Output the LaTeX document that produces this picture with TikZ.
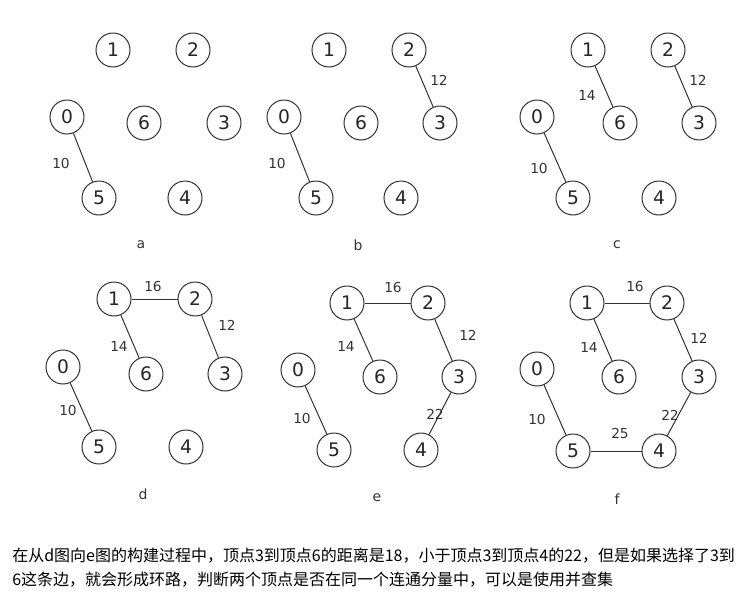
\documentclass[tikz,border=0pt]{standalone}
\usepackage{fontspec}
\setmainfont{DejaVu Sans}
\newfontfamily\cjk{Noto Sans CJK SC}
\begin{document}
\begin{tikzpicture}[x=0.75pt,y=-0.75pt,
  vtx/.style={circle,draw=black!80,text=black!85,line width=0.75pt,minimum size=25.5pt,inner sep=0pt,font=\fontsize{14}{14}\selectfont},
  edge/.style={line width=0.75pt,draw=black!80},
  wt/.style={font=\fontsize{10.3}{10.3}\selectfont,text=black!80},
  panellabel/.style={font=\fontsize{10.5}{10.5}\selectfont,text=black!80},
  txt/.style={anchor=west,inner sep=0pt,font=\cjk\fontsize{12}{12}\selectfont}]
\useasboundingbox[fill=white] (0,0) rectangle (744,604);
% panel a
\begin{scope}
\node[vtx] (a1) at (113,50) {1};
\node[vtx] (a2) at (193,50) {2};
\node[vtx] (a0) at (67,117) {0};
\node[vtx] (a6) at (144,123) {6};
\node[vtx] (a3) at (224,123) {3};
\node[vtx] (a5) at (99,198) {5};
\node[vtx] (a4) at (185,198) {4};
\draw[edge] (a0) -- (a5);
\node[wt] (wa05) at (61,163) {10};
\node[panellabel] (la) at (141,245) {a};
\end{scope}
% panel b
\begin{scope}
\node[vtx] (b1) at (329,50) {1};
\node[vtx] (b2) at (409,50) {2};
\node[vtx] (b0) at (284,117) {0};
\node[vtx] (b6) at (361,123) {6};
\node[vtx] (b3) at (440,123) {3};
\node[vtx] (b5) at (316,198) {5};
\node[vtx] (b4) at (401,198) {4};
\draw[edge] (b0) -- (b5);
\draw[edge] (b2) -- (b3);
\node[wt] (wb05) at (277,163) {10};
\node[wt] (wb23) at (439,80) {12};
\node[panellabel] (lb) at (358,245) {b};
\end{scope}
% panel c
\begin{scope}
\node[vtx] (c1) at (588,50) {1};
\node[vtx] (c2) at (668,50) {2};
\node[vtx] (c0) at (537,117) {0};
\node[vtx] (c6) at (620,123) {6};
\node[vtx] (c3) at (699,123) {3};
\node[vtx] (c5) at (573,198) {5};
\node[vtx] (c4) at (659,198) {4};
\draw[edge] (c0) -- (c5);
\draw[edge] (c2) -- (c3);
\draw[edge] (c1) -- (c6);
\node[wt] (wc05) at (539,168) {10};
\node[wt] (wc23) at (698,80) {12};
\node[wt] (wc16) at (587,95) {14};
\node[panellabel] (lc) at (617,245) {c};
\end{scope}
% panel d
\begin{scope}
\node[vtx] (d1) at (114,299) {1};
\node[vtx] (d2) at (195,299) {2};
\node[vtx] (d0) at (63,367) {0};
\node[vtx] (d6) at (146,374) {6};
\node[vtx] (d3) at (225,374) {3};
\node[vtx] (d5) at (99,447) {5};
\node[vtx] (d4) at (186,447) {4};
\draw[edge] (d0) -- (d5);
\draw[edge] (d2) -- (d3);
\draw[edge] (d1) -- (d6);
\draw[edge] (d1) -- (d2);
\node[wt] (wd05) at (68,410) {10};
\node[wt] (wd23) at (227,325) {12};
\node[wt] (wd16) at (119,346) {14};
\node[wt] (wd12) at (153,286) {16};
\node[panellabel] (ld) at (143,494) {d};
\end{scope}
% panel e
\begin{scope}
\node[vtx] (e1) at (347,303) {1};
\node[vtx] (e2) at (428,303) {2};
\node[vtx] (e0) at (298,370) {0};
\node[vtx] (e6) at (380,377) {6};
\node[vtx] (e3) at (459,377) {3};
\node[vtx] (e5) at (334,450) {5};
\node[vtx] (e4) at (421,450) {4};
\draw[edge] (e0) -- (e5);
\draw[edge] (e2) -- (e3);
\draw[edge] (e1) -- (e6);
\draw[edge] (e1) -- (e2);
\draw[edge] (e3) -- (e4);
\node[wt] (we05) at (302,418) {10};
\node[wt] (we23) at (468,335) {12};
\node[wt] (we16) at (346,346) {14};
\node[wt] (we12) at (393,287) {16};
\node[wt] (we34) at (435,414) {22};
\node[panellabel] (le) at (377,498) {e};
\end{scope}
% panel f
\begin{scope}
\node[vtx] (f1) at (587,303) {1};
\node[vtx] (f2) at (667,303) {2};
\node[vtx] (f0) at (537,369) {0};
\node[vtx] (f6) at (619,377) {6};
\node[vtx] (f3) at (699,377) {3};
\node[vtx] (f5) at (573,451) {5};
\node[vtx] (f4) at (659,451) {4};
\draw[edge] (f0) -- (f5);
\draw[edge] (f2) -- (f3);
\draw[edge] (f1) -- (f6);
\draw[edge] (f1) -- (f2);
\draw[edge] (f3) -- (f4);
\draw[edge] (f5) -- (f4);
\node[wt] (wf05) at (537,419) {10};
\node[wt] (wf23) at (699,338) {12};
\node[wt] (wf16) at (589,347) {14};
\node[wt] (wf12) at (635,286) {16};
\node[wt] (wf34) at (670,415) {22};
\node[wt] (wf54) at (620,433) {25};
\node[panellabel] (lf) at (617,499) {f};
\end{scope}
% text
\node[txt] (t1) at (12,556) {在从d图向e图的构建过程中，顶点3到顶点6的距离是18，小于顶点3到顶点4的22，但是如果选择了3到};
\node[txt] (t2) at (12,580) {6这条边，就会形成环路，判断两个顶点是否在同一个连通分量中，可以是使用并查集};
\end{tikzpicture}
\end{document}
